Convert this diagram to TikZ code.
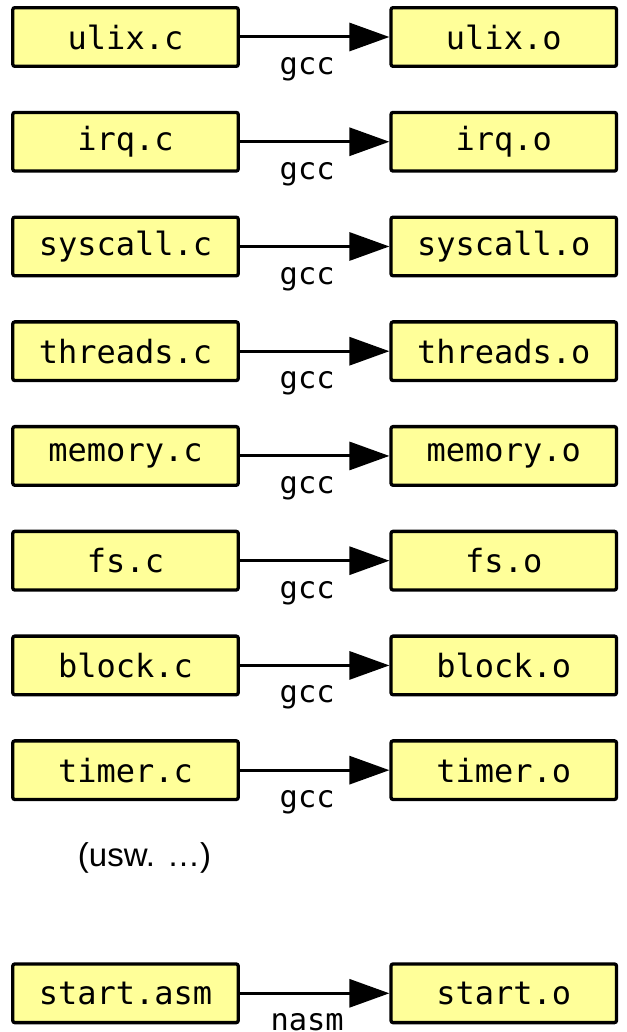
\documentclass[tikz,border=0pt]{standalone}
\usepackage{fontspec}
\setmonofont{DejaVu Sans Mono}
\setsansfont{Liberation Sans}
\usepackage{tikz}
\usetikzlibrary{arrows.meta, positioning}
\definecolor{filebg}{RGB}{255,255,153}

\tikzset{
    file/.style={draw, rectangle, line width=1.65pt, rounded corners=1pt, fill=filebg,
        minimum width=3.96cm, minimum height=1.03cm, inner sep=0pt,
        font=\fontsize{16}{19}\selectfont\ttfamily},
    tool/.style={below=9.5pt, pos=0.45, inner sep=0pt, font=\fontsize{15.2}{18}\selectfont\ttfamily},
    build/.style={-{Triangle[length=20pt, width=14pt]}, line width=1.5pt}
}

\begin{document}
\begin{tikzpicture}
    \useasboundingbox (0,0) rectangle (11.0,-18.13);

    % C-Quellen
    \node[file] (ulixc) at (2.205,-0.65) {ulix.c};
    \node[file] (ulixo) at (8.85,-0.65) {ulix.o};
    \node[file] (irqc) at (2.205,-2.49) {irq.c};
    \node[file] (irqo) at (8.85,-2.49) {irq.o};
    \node[file] (syscallc) at (2.205,-4.33) {syscall.c};
    \node[file] (syscallo) at (8.85,-4.33) {syscall.o};
    \node[file] (threadsc) at (2.205,-6.17) {threads.c};
    \node[file] (threadso) at (8.85,-6.17) {threads.o};
    \node[file] (memoryc) at (2.205,-8.01) {memory.c};
    \node[file] (memoryo) at (8.85,-8.01) {memory.o};
    \node[file] (fsc) at (2.205,-9.85) {fs.c};
    \node[file] (fso) at (8.85,-9.85) {fs.o};
    \node[file] (blockc) at (2.205,-11.69) {block.c};
    \node[file] (blocko) at (8.85,-11.69) {block.o};
    \node[file] (timerc) at (2.205,-13.53) {timer.c};
    \node[file] (timero) at (8.85,-13.53) {timer.o};

    \draw[build] (ulixc) -- node[tool] {gcc} (ulixo);
    \draw[build] (irqc) -- node[tool] {gcc} (irqo);
    \draw[build] (syscallc) -- node[tool] {gcc} (syscallo);
    \draw[build] (threadsc) -- node[tool] {gcc} (threadso);
    \draw[build] (memoryc) -- node[tool] {gcc} (memoryo);
    \draw[build] (fsc) -- node[tool] {gcc} (fso);
    \draw[build] (blockc) -- node[tool] {gcc} (blocko);
    \draw[build] (timerc) -- node[tool] {gcc} (timero);

    \node[font=\fontsize{16.5}{19}\selectfont\sffamily] (usw) at (2.54,-15.08) {(usw. \dots)};

    % Assembler
    \node[file] (startasm) at (2.205,-17.45) {start.asm};
    \node[file] (starto) at (8.85,-17.45) {start.o};
    \draw[build] (startasm) -- node[tool] {nasm} (starto);
\end{tikzpicture}
\end{document}
